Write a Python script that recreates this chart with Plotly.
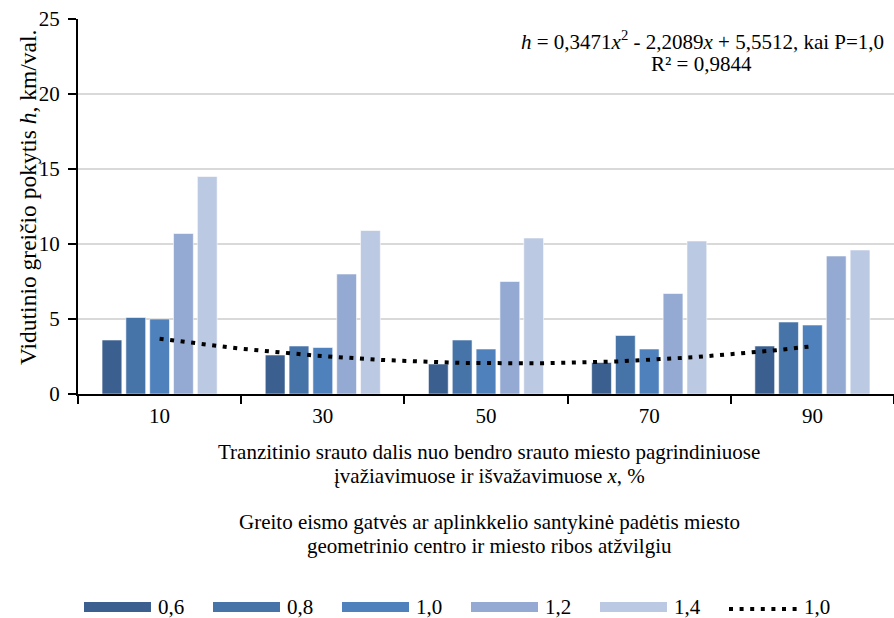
import numpy as np
import plotly.graph_objects as go

# Share of transit flow (x axis categories)
categories = ["10", "30", "50", "70", "90"]

# Average speed change h, km/h, for each relative ring-road position P
series_names = ["0,6", "0,8", "1,0", "1,2", "1,4"]
h_p06 = [3.6, 2.6, 2.0, 2.1, 3.2]
h_p08 = [5.1, 3.2, 3.6, 3.9, 4.8]
h_p10 = [5.0, 3.1, 3.0, 3.0, 4.6]
h_p12 = [10.7, 8.0, 7.5, 6.7, 9.2]
h_p14 = [14.5, 10.9, 10.4, 10.2, 9.6]
series_values = [h_p06, h_p08, h_p10, h_p12, h_p14]
series_colors = ["#3B5F8E", "#4673A8", "#4F81BD", "#95AAD2", "#BCC9E2"]

# Polynomial trend for P=1,0: h = a*x^2 + b*x + c
trend_coef = [0.3471, -2.2089, 5.5512]
trend_label = "1,0"
y_ticks = [0, 5, 10, 15, 20, 25]

FONT = "Liberation Serif, Times New Roman, serif"
FS = 21
W, H = 894, 618
L, R, T, B = 78, 0, 19, 224
PW, PH = W - L - R, H - T - B


def px_x(X):
    return (X - L) / PW


def px_y(Y):
    return (H - B - Y) / PH


fig = go.Figure()

for name, vals, col in zip(series_names, series_values, series_colors):
    fig.add_trace(go.Bar(
        x=categories, y=vals, name=name,
        marker=dict(color=col, line=dict(color="rgba(255,255,255,0.7)", width=0.8)),
        showlegend=False,
    ))

xs = np.linspace(1, len(categories), 200)
a, b, c = trend_coef
fig.add_trace(go.Scatter(
    x=xs, y=a * xs ** 2 + b * xs + c, xaxis="x2", mode="lines",
    line=dict(color="black", width=4, dash="4px,6.6px"),
    showlegend=False, hoverinfo="skip",
))

fig.update_layout(
    width=W, height=H,
    margin=dict(l=L, r=R, t=T, b=B, pad=0),
    paper_bgcolor="white", plot_bgcolor="white",
    font=dict(family=FONT, size=FS, color="black"),
    barmode="group", bargap=0.27, bargroupgap=0.17,
    xaxis=dict(
        type="category", range=[-0.5, 4.5], tickson="boundaries",
        showline=True, linecolor="black", linewidth=2,
        ticks="outside", ticklen=8, tickwidth=2, tickcolor="black",
        showgrid=False, tickfont=dict(size=FS), ticklabelstandoff=2,
    ),
    xaxis2=dict(
        overlaying="x", range=[0.5, 5.5], visible=False,
        showgrid=False, zeroline=False,
    ),
    yaxis=dict(
        range=[0, 25], tickvals=y_ticks, ticktext=[str(v) for v in y_ticks],
        showline=True, linecolor="black", linewidth=2,
        ticks="outside", ticklen=8, tickwidth=2, tickcolor="black",
        showgrid=True, gridcolor="#D9D9D9", gridwidth=1.5, zeroline=False,
        tickfont=dict(size=FS), ticklabelstandoff=4,
    ),
)


def text_at(s, X, Y, anchor="center", size=FS):
    return dict(text=s, x=px_x(X), y=px_y(Y), xanchor=anchor, yanchor="middle",
                font=dict(size=size))


annotations = [
    text_at("<i>h</i> = 0,3471<i>x</i><sup>2</sup> - 2,2089<i>x</i> + 5,5512, kai P=1,0", 702, 40),
    text_at("R² = 0,9844", 701, 64),
    text_at("Tranzitinio srauto dalis nuo bendro srauto miesto pagrindiniuose", 489, 452),
    text_at("įvažiavimuose ir išvažavimuose <i>x</i>, %", 489, 476),
    text_at("Greito eismo gatvės ar aplinkkelio santykinė padėtis miesto", 489, 522),
    text_at("geometrinio centro ir miesto ribos atžvilgiu", 489, 546),
]
y_title = text_at("Vidutinio greičio pokytis <i>h</i>, km/val.", 28, 198, size=23.5)
y_title["textangle"] = -90
annotations.append(y_title)

# Hand-built legend row
shapes = []
leg_y = 607
sw_x = [84, 213, 342, 471, 600]
for x0, name, col in zip(sw_x, series_names, series_colors):
    shapes.append(dict(type="rect", xref="paper", yref="paper",
                       x0=px_x(x0), x1=px_x(x0 + 67), y0=px_y(leg_y - 5), y1=px_y(leg_y + 5),
                       fillcolor=col, line=dict(width=0)))
    annotations.append(text_at(name, x0 + 72, leg_y, "left"))
shapes.append(dict(type="line", xref="paper", yref="paper",
                   x0=px_x(729), x1=px_x(799), y0=px_y(leg_y + 2), y1=px_y(leg_y + 2),
                   line=dict(color="black", width=4, dash="4px,6.6px")))
annotations.append(text_at(trend_label, 802, leg_y, "left"))

for an in annotations:
    an.update(xref="paper", yref="paper", showarrow=False)
fig.update_layout(annotations=annotations, shapes=shapes)

fig.write_html("out.html")
